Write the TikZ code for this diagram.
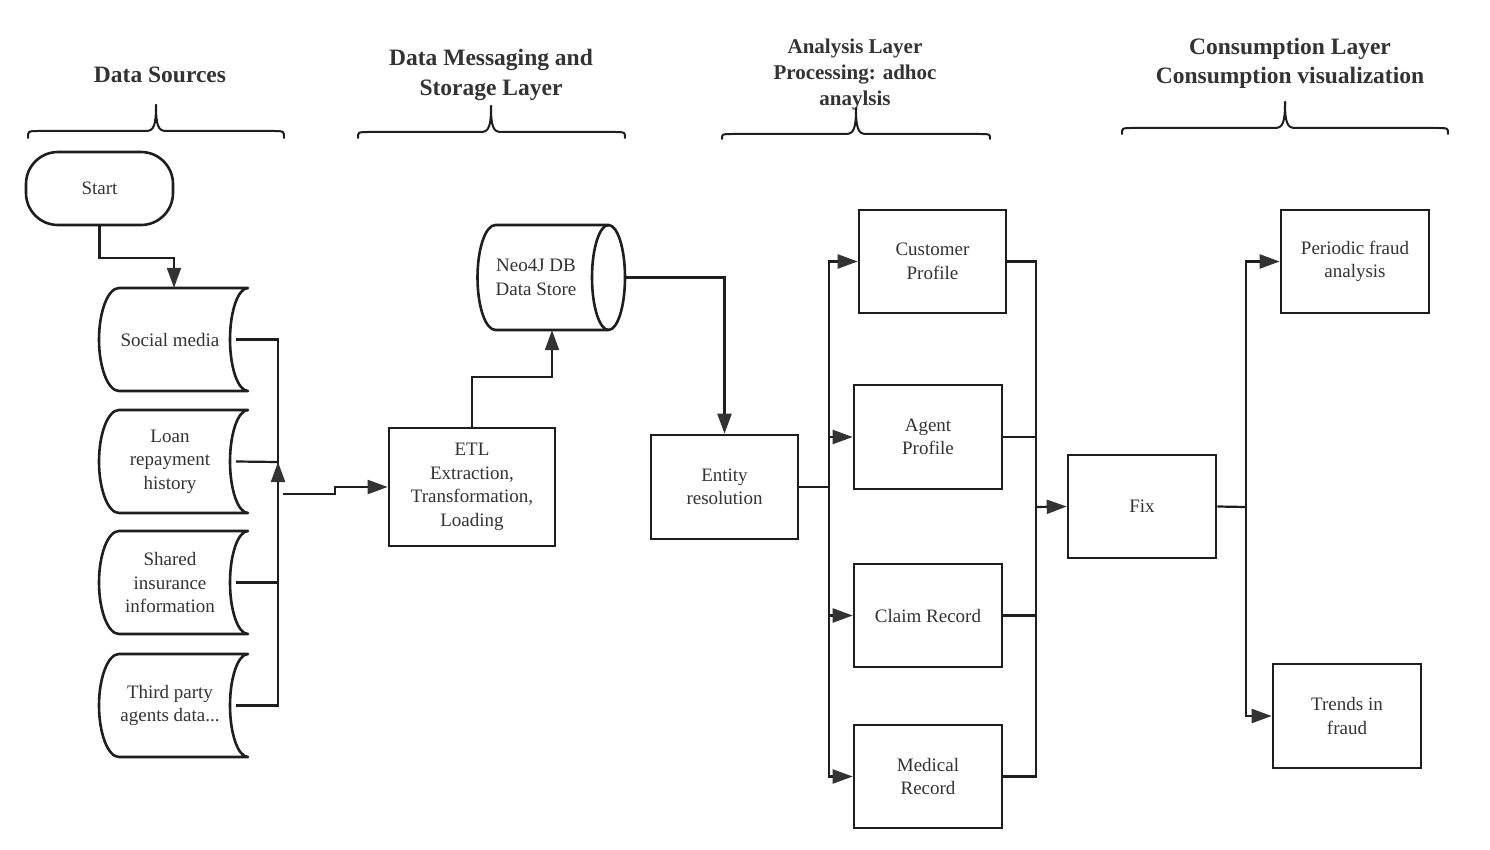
\documentclass[tikz,border=0pt]{standalone}
\usepackage{fontspec}
\setmainfont{Liberation Serif}
\usetikzlibrary{arrows.meta,calc}
\definecolor{ln}{HTML}{1E1E1E}
\definecolor{tx}{HTML}{333333}
\definecolor{ah}{HTML}{333333}
\tikzset{
  body/.style={font=\fontsize{19}{23.5}\selectfont, text=tx, align=center},
  boxnode/.style={body, draw=ln, line width=2.6pt, inner sep=0pt, minimum width=148pt, minimum height=103pt},
  head/.style={font=\bfseries\fontsize{23.5}{30}\selectfont, text=tx, align=center},
  conn/.style={draw=ln, line width=2.2pt},
  arr/.style={conn, -{Triangle[length=20pt,width=14pt,color=ah]}},
  shapeline/.style={draw=ln, line width=2.6pt, line join=round},
  braceline/.style={draw=ln, line width=2pt, line cap=round},
}
\newcommand\MyBrace[6]{% x1 x2 xt ytop yline yend
  \draw[braceline] (#1,#6) .. controls (#1,#5) .. ({#1+10},#5) -- ({#3-10},#5) .. controls ({#3-2},#5) and (#3,{#5-6}) .. (#3,#4);
  \draw[braceline] (#2,#6) .. controls (#2,#5) .. ({#2-10},#5) -- ({#3+10},#5) .. controls ({#3+2},#5) and (#3,{#5-6}) .. (#3,#4);
}
\newcommand\StoredData[4]{% name cx cy text
  \draw[shapeline, shift={(#2,#3)}] (-54.5,-51.5) -- (74.5,-51.5)
    .. controls (64.5,-51.5) and (56.5,-28) .. (56.5,0)
    .. controls (56.5,28) and (64.5,51.5) .. (74.5,51.5) -- (-54.5,51.5)
    .. controls (-65.5,51.5) and (-74.5,28) .. (-74.5,0)
    .. controls (-74.5,-28) and (-65.5,-51.5) .. (-54.5,-51.5) -- cycle;
  \node[body, inner sep=0pt, minimum width=132pt, minimum height=103pt] (#1) at ({#2-3.5},#3) {#4};
}
\begin{document}
\begin{tikzpicture}[x=1pt,y=-1pt]
\useasboundingbox[fill=white] (0,0) rectangle (1490,850);

% headings
\node[head] (h1) at (160,75) {Data Sources};
\node[head] (h2) at (491,75) {Data Messaging and\\Storage Layer};
\node[head, font=\bfseries\fontsize{21}{26}\selectfont] (h3) at (855,74) {Analysis Layer\\Processing: adhoc\\anaylsis};
\node[head, font=\bfseries\fontsize{23.5}{29}\selectfont] (h4) at (1290,63.5) {Consumption Layer\\Consumption visualization};

% braces
\MyBrace{28}{284}{156}{105}{131}{138}
\MyBrace{358}{625}{491}{106}{132}{138}
\MyBrace{722}{990}{856}{108}{134}{139}
\MyBrace{1122}{1448}{1285}{102}{128}{134}

% data sources
\node[body, draw=ln, line width=2.6pt, rounded corners=32pt, minimum width=147pt, minimum height=73pt, inner sep=0pt] (start) at (99.5,188.5) {Start};
\StoredData{sm}{173.5}{339.5}{Social media}
\StoredData{lr}{173.5}{461.5}{Loan\\repayment\\history}
\StoredData{si}{173.5}{582.5}{Shared\\insurance\\information}
\StoredData{tp}{173.5}{705.5}{Third party\\agents data...}

% storage layer
\node[boxnode, minimum width=166pt, minimum height=118pt] (etl) at (472,487) {ETL\\Extraction,\\Transformation,\\Loading};
\draw[shapeline, shift={(551.5,277.5)}] (-56,-52.5) -- (57,-52.5)
  .. controls (66,-52.5) and (73.5,-29) .. (73.5,0)
  .. controls (73.5,29) and (66,52.5) .. (57,52.5) -- (-56,52.5)
  .. controls (-66,52.5) and (-74,29) .. (-74,0)
  .. controls (-74,-29) and (-66,-52.5) .. (-56,-52.5) -- cycle;
\draw[shapeline, shift={(551.5,277.5)}] (57,-52.5) .. controls (48,-52.5) and (40.5,-29) .. (40.5,0)
  .. controls (40.5,29) and (48,52.5) .. (57,52.5);
\node[body, inner sep=0pt, minimum width=178pt, minimum height=105pt] (neo) at (536,277.5) {Neo4J DB\\Data Store};

% analysis layer
\node[boxnode, minimum width=147pt, minimum height=104pt] (ent) at (724.5,487) {Entity\\resolution};
\node[boxnode, minimum width=147pt] (cp) at (932.5,261.5) {Customer\\Profile};
\node[boxnode, minimum height=104pt] (ag) at (928,437) {Agent\\Profile};
\node[boxnode] (cr) at (928,615.5) {Claim Record};
\node[boxnode] (mr) at (928,776.5) {Medical\\Record};

% consumption layer
\node[boxnode] (fix) at (1142,506.5) {Fix};
\node[boxnode] (pf) at (1355,261.5) {Periodic fraud\\analysis};
\node[boxnode, minimum height=104pt] (tf) at (1347,716) {Trends in\\fraud};

% connectors: sources
\draw[arr] (start.south) -- ++(0,32) -| ([xshift=4pt]sm.north);
\coordinate (dj) at (278,462);
\coordinate (dk) at (283,494);
\draw[conn] (sm.east) -| (dj);
\draw[conn] (lr.east) -- (dj);
\draw[conn] (si.east) -| (dj);
\draw[arr] (tp.east) -| (dj);
\draw[arr] (dk) -- ++(52,0) -- ++(0,-7) -- (etl.west);

% storage
\draw[arr] (etl.north) -- ++(0,-50) -| ([xshift=16pt]neo.south);
\draw[arr] (neo.east) -| (ent.north);

% analysis
\draw[arr] (ent.east) -- ++(30,0) |- (cp.west);
\draw[arr] (ent.east) -- ++(30,0) |- (ag.west);
\draw[arr] (ent.east) -- ++(30,0) |- (cr.west);
\draw[arr] (ent.east) -- ++(30,0) |- (mr.west);
\coordinate (mg) at (1036,507);
\draw[conn] (cp.east) -| (mg);
\draw[conn] (ag.east) -| (mg);
\draw[conn] (cr.east) -| (mg);
\draw[conn] (mr.east) -| (mg);
\draw[arr] (mg) -- (fix.west);

% consumption
\coordinate (fs) at (1246,507);
\draw[conn] (fix.east) -- (fs);
\draw[arr] (fs) |- (pf.west);
\draw[arr] (fs) |- (tf.west);
\end{tikzpicture}
\end{document}
